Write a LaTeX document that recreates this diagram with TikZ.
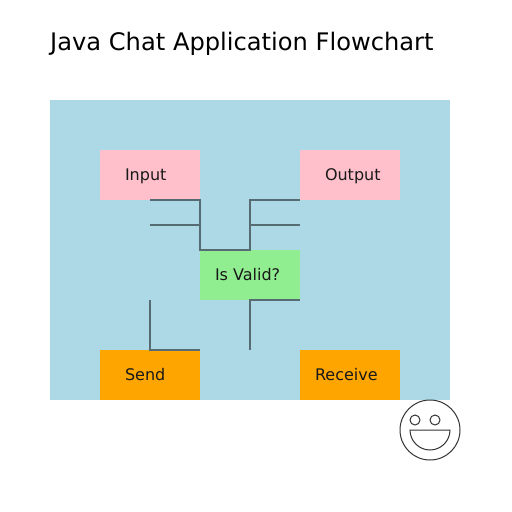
\documentclass[tikz,border=0pt]{standalone}
\usepackage{fontspec}
\setmainfont{DejaVu Sans}
\definecolor{panel}{HTML}{ADD8E6}
\definecolor{pinkbox}{HTML}{FFC0CB}
\definecolor{greenbox}{HTML}{90EE90}
\definecolor{orangebox}{HTML}{FFA500}
\definecolor{wire}{HTML}{566C72}
\tikzset{
  box/.style={minimum width=100pt,minimum height=50pt,inner sep=0pt,outer sep=0pt,anchor=north west},
  lbl/.style={anchor=base west,inner sep=0pt,outer sep=0pt,font=\fontsize{16}{18}\selectfont,text=black!90},
  conn/.style={draw=wire,line width=1.5pt},
  face/.style={draw=black!80,line width=1pt,fill=none},
}
\begin{document}
\begin{tikzpicture}[x=1pt,y=-1pt]
\useasboundingbox (0,0) rectangle (512,512);
\fill[white] (0,0) rectangle (512,512);
\fill[panel] (50,100) rectangle (450,400);
\node[anchor=base west,inner sep=0pt,font=\fontsize{24.15}{28}\selectfont] (title) at (50,50) {Java Chat Application Flowchart};
\node[box,fill=pinkbox] (input) at (100,150) {};
\node[box,fill=pinkbox] (output) at (300,150) {};
\node[box,fill=greenbox] (valid) at (200,250) {};
\node[box,fill=orangebox] (send) at (100,350) {};
\node[box,fill=orangebox] (receive) at (300,350) {};
\node[lbl] (inputl) at (125,180) {Input};
\node[lbl] (outputl) at (325,180) {Output};
\node[lbl] (validl) at (215,280) {Is Valid?};
\node[lbl] (sendl) at (125,380) {Send};
\node[lbl] (receivel) at (315,380) {Receive};
\coordinate (a) at (150,225);
\coordinate (aj) at (200,225);
\coordinate (b) at (300,225);
\coordinate (bj) at (250,225);
\coordinate (c) at (150,300);
\coordinate (d) at (250,350);
\draw[conn] (input.south) -- (input.south east) -- (valid.north west) -- (valid.north) -- (output.south -| valid.north) -- (output.south west);
\draw[conn] (a) -- (aj);
\draw[conn] (b) -- (bj);
\draw[conn] (c) -- (send.north) -- (send.north east);
\draw[conn] (d) -- (valid.south) -- (valid.south east);
\node[circle,draw=black!80,line width=1pt,minimum size=60pt,inner sep=0pt] (smile) at (430,430) {};
\node[circle,draw=black!80,line width=1pt,minimum size=10pt,inner sep=0pt] (eyel) at (415,420) {};
\node[circle,draw=black!80,line width=1pt,minimum size=10pt,inner sep=0pt] (eyer) at (435,420) {};
\draw[face] (410,430) -- (450,430) .. controls (450,441) and (441,450) .. (430,450) .. controls (419,450) and (410,441) .. (410,430) -- cycle;
\end{tikzpicture}
\end{document}
